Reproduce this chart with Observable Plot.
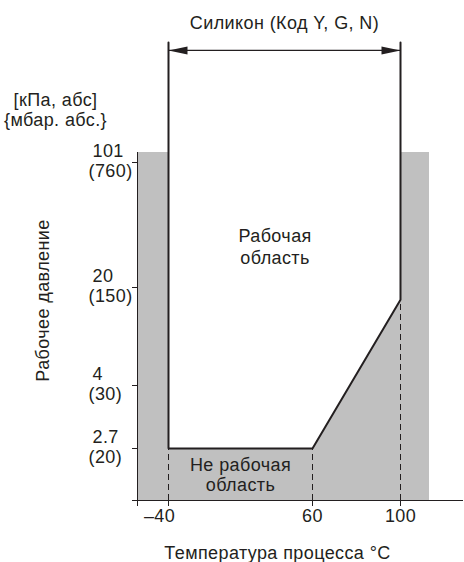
<!DOCTYPE html>
<html><head><meta charset="utf-8">
<script src="https://cdn.jsdelivr.net/npm/d3@7"></script>
<script src="https://cdn.jsdelivr.net/npm/@observablehq/plot@0.6"></script>
<style>body{margin:0;background:#fff} svg{display:block}</style>
</head><body><div id="chart"></div>
<script>
// ---- data ----
const titleText = "Силикон (Код Y, G, N)";
const unitsText = "[кПа, абс]\n{мбар. абс.}";
const yAxisTitle = "Рабочее давление";
const xAxisTitle = "Температура процесса °C";
const workText = "Рабочая\nобласть";
const noWorkText = "Не рабочая\nобласть";

const xTicks = [-60, -40, 60, 100];
const xTickLabels = ["", "–40", "60", "100"];
const yTicks = [0, 2.7, 4, 20, 101];
const kPaLabels = ["", "2.7", "4", "20", "101"];
const mbarLabels = ["", "(20)", "(30)", "(150)", "(760)"];

const boundaryT = [-40, -40, 60, 100, 100];   // °C
const boundaryP = [300, 2.7, 2.7, 18, 300];   // kPa (300 = top of drawing)
const dashT = [-40, 60, 100];
const dashP = [2.7, 2.7, 18];
const greyT = [-60, 113];
const greyP = [0, 120];
const arrowT = [-40, 100];
const arrowP = 287;
const workPos = [34, 47];
const noWorkPos = [10, 1.35];

// ---- chart ----
const boundary = boundaryT.map((t, i) => ({t, p: boundaryP[i]}));
const dashes = dashT.map((t, i) => ({t, p: dashP[i]}));
const xLab = xTicks.map((t, i) => ({t, label: xTickLabels[i]}));
const ink = "#231f20";
const font = "Liberation Sans, Arial, sans-serif";
const fs = 18;

const headRight = {draw(ctx) { ctx.moveTo(0, 0); ctx.lineTo(-19, -4); ctx.lineTo(-19, 4); ctx.closePath(); }};
const headLeft = {draw(ctx) { ctx.moveTo(0, 0); ctx.lineTo(19, -4); ctx.lineTo(19, 4); ctx.closePath(); }};
const centered = {textAnchor: "middle", lineAnchor: "middle", fontSize: fs};

const chart = Plot.plot({
  width: 464, height: 562,
  marginLeft: 137, marginRight: 35, marginTop: 42, marginBottom: 62,
  style: {fontFamily: font, fontSize: fs + "px", color: ink, background: "#fff", letterSpacing: "0.4px"},
  x: {type: "linear", domain: [-60, -40, 60, 100, 113, 128], range: [137, 168, 312, 400, 429, 463], axis: null},
  y: {type: "linear", domain: [0, 2.7, 4, 20, 101, 120, 300], range: [500, 448, 385, 287, 162, 152, 42], axis: null},
  marks: [
    Plot.rect([0], {x1: greyT[0], x2: greyT[1], y1: greyP[0], y2: greyP[1], fill: "#c0c0c0"}),
    Plot.line(boundary, {x: "t", y: "p", fill: "white", stroke: ink, strokeWidth: 2, strokeLinejoin: "miter"}),
    Plot.ruleX(dashes, {x: "t", y1: 0, y2: "p", stroke: ink, strokeWidth: 1, strokeDasharray: "6,4"}),
    Plot.ruleY([0], {x1: -60, x2: 128, stroke: ink, strokeWidth: 1}),
    Plot.ruleX([-60], {y1: 0, y2: greyP[1], stroke: ink, strokeWidth: 1}),
    Plot.axisX({ticks: xTicks, tickFormat: () => "", tickSize: 6, label: null, anchor: "bottom"}),
    Plot.text(xLab.filter(d => d.t < -50 || d.t > -30), {x: "t", text: "label", frameAnchor: "bottom", textAnchor: "middle", lineAnchor: "top", dy: 9, fontSize: fs}),
    Plot.text(xLab.filter(d => d.t >= -50 && d.t <= -30), {x: "t", text: "label", frameAnchor: "bottom", textAnchor: "middle", lineAnchor: "top", dx: -9, dy: 9, fontSize: fs}),
    Plot.axisY({ticks: yTicks, tickFormat: () => "", tickSize: 5, label: null, anchor: "left"}),
    Plot.text(yTicks, {y: d => d, text: (d, i) => kPaLabels[i], frameAnchor: "left", textAnchor: "start", dx: -45, dy: -11, fontSize: fs}),
    Plot.text(yTicks, {y: d => d, text: (d, i) => mbarLabels[i], frameAnchor: "left", textAnchor: "start", dx: -49, dy: 9, fontSize: fs}),
    Plot.ruleY([arrowP], {x1: arrowT[0], x2: arrowT[1], stroke: ink, strokeWidth: 1.2}),
    Plot.dot([arrowT[0]], {x: d => d, y: arrowP, symbol: headLeft, fill: ink, stroke: null}),
    Plot.dot([arrowT[1]], {x: d => d, y: arrowP, symbol: headRight, fill: ink, stroke: null}),
    Plot.text([titleText], {...centered, frameAnchor: "top", dx: 1, dy: -19}),
    Plot.text([unitsText], {...centered, frameAnchor: "top-left", dx: -82, dy: 67, lineHeight: 1.1}),
    Plot.text([yAxisTitle], {...centered, frameAnchor: "left", rotate: -90, dx: -94, dy: 29}),
    Plot.text([xAxisTitle], {...centered, frameAnchor: "bottom", dx: -6, dy: 53}),
    Plot.text([workText], {...centered, x: workPos[0], y: workPos[1], lineHeight: 1.25}),
    Plot.text([noWorkText], {...centered, x: noWorkPos[0], y: noWorkPos[1], lineHeight: 1.1})
  ]
});
document.getElementById("chart").append(chart);
</script>
</body></html>
